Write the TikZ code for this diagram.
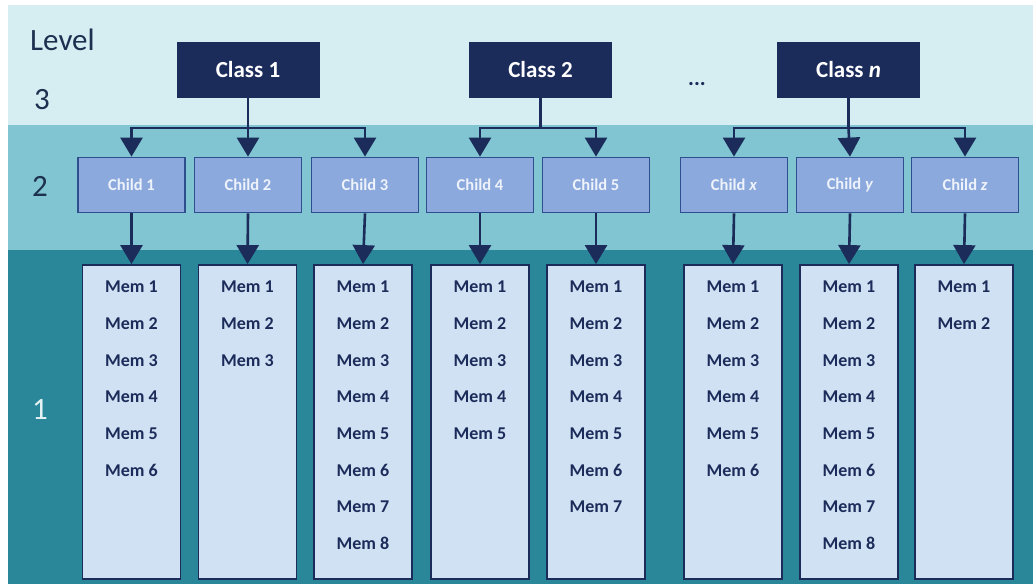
\documentclass[tikz,border=0pt]{standalone}
\usepackage{fontspec}
\setmainfont{Carlito}
\usetikzlibrary{arrows.meta}
\definecolor{bandA}{HTML}{D6EDF2}
\definecolor{bandB}{HTML}{80C5D1}
\definecolor{bandC}{HTML}{2A8799}
\definecolor{navy}{HTML}{1C2C5A}
\definecolor{childfill}{HTML}{8BA9DD}
\definecolor{childline}{HTML}{2E4E8E}
\definecolor{childtext}{HTML}{EEF2FA}
\definecolor{memfill}{HTML}{D0E1F3}
\definecolor{lvltext}{HTML}{1E3050}
\tikzset{
  classbox/.style={draw=navy, fill=navy, line width=1pt, minimum width=142pt, minimum height=55pt, inner sep=0pt, text=white, font=\bfseries\fontsize{23}{25}\selectfont},
  childbox/.style={draw=childline, fill=childfill, line width=1.8pt, minimum width=107pt, minimum height=55pt, inner sep=0pt, text=childtext, font=\bfseries\fontsize{16.5}{18}\selectfont},
  membox/.style={draw=navy, fill=memfill, line width=1.8pt, minimum width=98pt, minimum height=314pt, inner sep=0pt},
  memtext/.style={text=navy, font=\bfseries\fontsize{18}{20}\selectfont, inner sep=0pt},
  link/.style={draw=navy, line width=2.6pt},
  arr/.style={link, -{Triangle[width=22pt,length=19pt]}},
  lvl/.style={text=lvltext, font=\fontsize{31}{33}\selectfont, inner sep=0pt}
}
\begin{document}
\begin{tikzpicture}[x=1pt,y=-1pt]
\useasboundingbox (0,0) rectangle (1033,584);
\fill[white] (0,0) rectangle (1033,584);
\fill[bandA] (8,5) rectangle (1033,125);
\fill[bandB] (8,125) rectangle (1033,250);
\fill[bandC] (8,250) rectangle (1033,584);
% level labels
\node[lvl, anchor=west] (lvlword) at (30,40) {Level};
\node[lvl] (l3) at (42,100) {3};
\node[lvl] (l2) at (40,186) {2};
\node[lvl, text=white!88!bandC] (l1) at (40,410) {1};
% classes
\node[classbox] (c1) at (248,69.5) {Class 1};
\node[classbox] (c2) at (540.5,69.5) {Class 2};
\node[classbox] (cn) at (848.5,69.5) {Class \textit{n}};
\node[text=navy, font=\bfseries\fontsize{22}{24}\selectfont, inner sep=0pt] (dots) at (697,84) {...};
% children
\foreach \n/\x/\t in {1/131.5/Child 1, 2/248/Child 2, 3/365/Child 3, 4/480/Child 4, 5/596/Child 5, x/734/Child \textit{x}, y/850/Child \textit{y}, z/965/Child \textit{z}}{
  \node[childbox] (ch\n) at (\x,185) {\t};
}
% junctions
\coordinate (j1) at (c1.south |- 0,128);
\coordinate (j2) at (c2.south |- 0,128);
\coordinate (jn) at (cn.south |- 0,128);
\draw[link] (c1.south) -- (j1);
\draw[link] (c2.south) -- (j2);
\draw[link] (cn.south) -- (jn);
\draw[arr] (j1) -| (ch1.north);
\draw[arr] (j1) -- (ch2.north);
\draw[arr] (j1) -| (ch3.north);
\draw[arr] (j2) -| (ch4.north);
\draw[arr] (j2) -| (ch5.north);
\draw[arr] (jn) -| (chx.north);
\draw[arr] (jn) -- (chy.north);
\draw[arr] (jn) -| (chz.north);
% member boxes
\foreach \n/\x/\k in {1/131.5/6, 2/247.5/3, 3/363/8, 4/480/5, 5/596/7, x/733/6, y/849/8, z/964/2}{
  \node[membox] (m\n) at (\x,422) {};
  \draw[arr] (ch\n.south) -- (m\n.north);
  \foreach \i in {1,...,\k}{
    \node[memtext] (m\n-\i) at (\x,{287+36.6*(\i-1)}) {Mem \i};
  }
}
\end{tikzpicture}
\end{document}
